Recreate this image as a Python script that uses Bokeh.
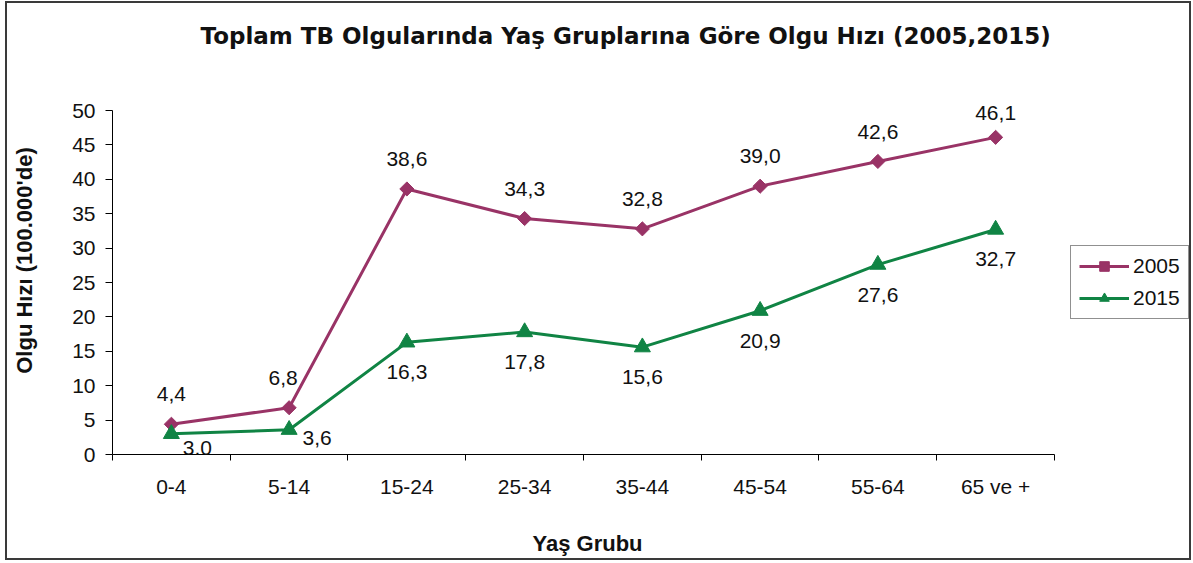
import math
from bokeh.plotting import figure
from bokeh.models import (ColumnDataSource, Range1d, FixedTicker, LabelSet,
                          Legend, LegendItem, Title)
from bokeh.core.properties import value
from bokeh.embed import file_html
from bokeh.resources import INLINE

# ---- data ----
categories = ["0-4", "5-14", "15-24", "25-34", "35-44", "45-54", "55-64", "65 ve +"]
rate_2005 = [4.4, 6.8, 38.6, 34.3, 32.8, 39.0, 42.6, 46.1]
rate_2015 = [3.0, 3.6, 16.3, 17.8, 15.6, 20.9, 27.6, 32.7]
labels_2005 = ["4,4", "6,8", "38,6", "34,3", "32,8", "39,0", "42,6", "46,1"]
labels_2015 = ["3,0", "3,6", "16,3", "17,8", "15,6", "20,9", "27,6", "32,7"]
y_ticks = [0, 5, 10, 15, 20, 25, 30, 35, 40, 45, 50]

title_text = "Toplam TB Olgularında Yaş Gruplarına Göre Olgu Hızı (2005,2015)"
y_title = "Olgu Hızı (100.000'de)"
x_title = "Yaş Grubu"

# label placement (styling)
xoff_2005 = [0, -6, 0, 0, 0, 0, 0, 0]
yoff_2005 = [30, 30, 30, 30, 30, 30, 29, 24]
xoff_2015 = [26, 28, 0, 0, 0, 0, 0, 0]
yoff_2015 = [-14, -8, -30, -30, -30, -30, -30, -29]

C05 = "#993366"
C15 = "#108444"
TXT = "#111111"
FONT = "Liberation Sans"

n = len(categories)
xpos = [i + 0.5 for i in range(n)]

src05 = ColumnDataSource(dict(x=xpos, y=rate_2005, t=labels_2005, xo=xoff_2005, yo=yoff_2005))
src15 = ColumnDataSource(dict(x=xpos, y=rate_2015, t=labels_2015, xo=xoff_2015, yo=yoff_2015))

# extra room on the right of the last category holds the legend
p = figure(width=1186, height=559, output_backend="svg", toolbar_location=None,
           x_range=Range1d(0, 9.155), y_range=Range1d(0, 56.4),
           min_border_left=105, min_border_right=3, min_border_top=62, min_border_bottom=108)
p.styles = {"border": "2px solid #3a3a3a", "margin-left": "5px", "margin-top": "1px"}
p.outline_line_color = None
p.xgrid.visible = False
p.ygrid.visible = False
p.background_fill_color = "white"
p.border_fill_color = "white"

# title
p.title.text = title_text
p.title.align = "left"
p.title.offset = 88
p.title.text_font = "DejaVu Sans"
p.title.text_font_style = "bold"
p.title.text_font_size = "23px"
p.title.text_color = TXT
p.title.standoff = 35

# y axis
ya = p.yaxis[0]
ya.ticker = FixedTicker(ticks=y_ticks)
ya.bounds = (0, 50)
ya.major_tick_in = 0
ya.major_tick_out = 7
ya.minor_tick_line_color = None
ya.axis_line_color = "#000000"
ya.major_tick_line_color = "#000000"
ya.major_label_text_font = FONT
ya.major_label_text_font_size = "21px"
ya.major_label_text_color = TXT
ya.major_label_standoff = 10
ya.axis_label = y_title
ya.axis_label_text_font = FONT
ya.axis_label_text_font_style = "bold"
ya.axis_label_text_font_size = "22px"
ya.axis_label_text_color = TXT
ya.axis_label_standoff = 32

# x axis: labels at category centers, ticks at category boundaries
xa = p.xaxis[0]
xa.ticker = FixedTicker(ticks=xpos, minor_ticks=list(range(n + 1)))
xa.bounds = (0, n)
xa.major_label_overrides = {xv: c for xv, c in zip(xpos, categories)}
xa.major_tick_in = 0
xa.major_tick_out = 0
xa.minor_tick_in = 0
xa.minor_tick_out = 6
xa.minor_tick_line_color = "#000000"
xa.axis_line_color = "#000000"
xa.major_label_text_font = FONT
xa.major_label_text_font_size = "21px"
xa.major_label_text_color = TXT
xa.major_label_standoff = 14

# x axis title under the category axis (blank first line gives the gap)
xt = Title(text="\n" + x_title, align="left", offset=420, text_font=FONT,
           text_font_style="bold", text_font_size="22px", text_color=TXT, standoff=6)
p.add_layout(xt, "below")

# series
l05 = p.line("x", "y", source=src05, line_color=C05, line_width=3)
m05 = p.scatter("x", "y", source=src05, marker="square", angle=math.pi / 4, size=10,
                fill_color=C05, line_color=C05)
l15 = p.line("x", "y", source=src15, line_color=C15, line_width=3)
m15 = p.scatter("x", "y", source=src15, marker="triangle", size=16,
                fill_color=C15, line_color=C15)

for src in (src05, src15):
    p.add_layout(LabelSet(x="x", y="y", text="t", source=src, x_offset="xo", y_offset="yo",
                          text_align="center", text_baseline="middle",
                          text_font=value(FONT), text_font_size=value("21px"),
                          text_color=TXT))

legend = Legend(items=[LegendItem(label="2005", renderers=[l05, m05]),
                       LegendItem(label="2015", renderers=[l15, m15])],
                location=(958, 135), margin=0, padding=8, spacing=8,
                glyph_width=50, glyph_height=24, label_standoff=4, label_height=24,
                label_text_font=FONT, label_text_font_size="21px", label_text_color=TXT,
                border_line_color="#222222", border_line_width=1,
                background_fill_color="white", background_fill_alpha=1.0)
p.add_layout(legend)

open("out.html", "w").write(file_html(p, INLINE))
